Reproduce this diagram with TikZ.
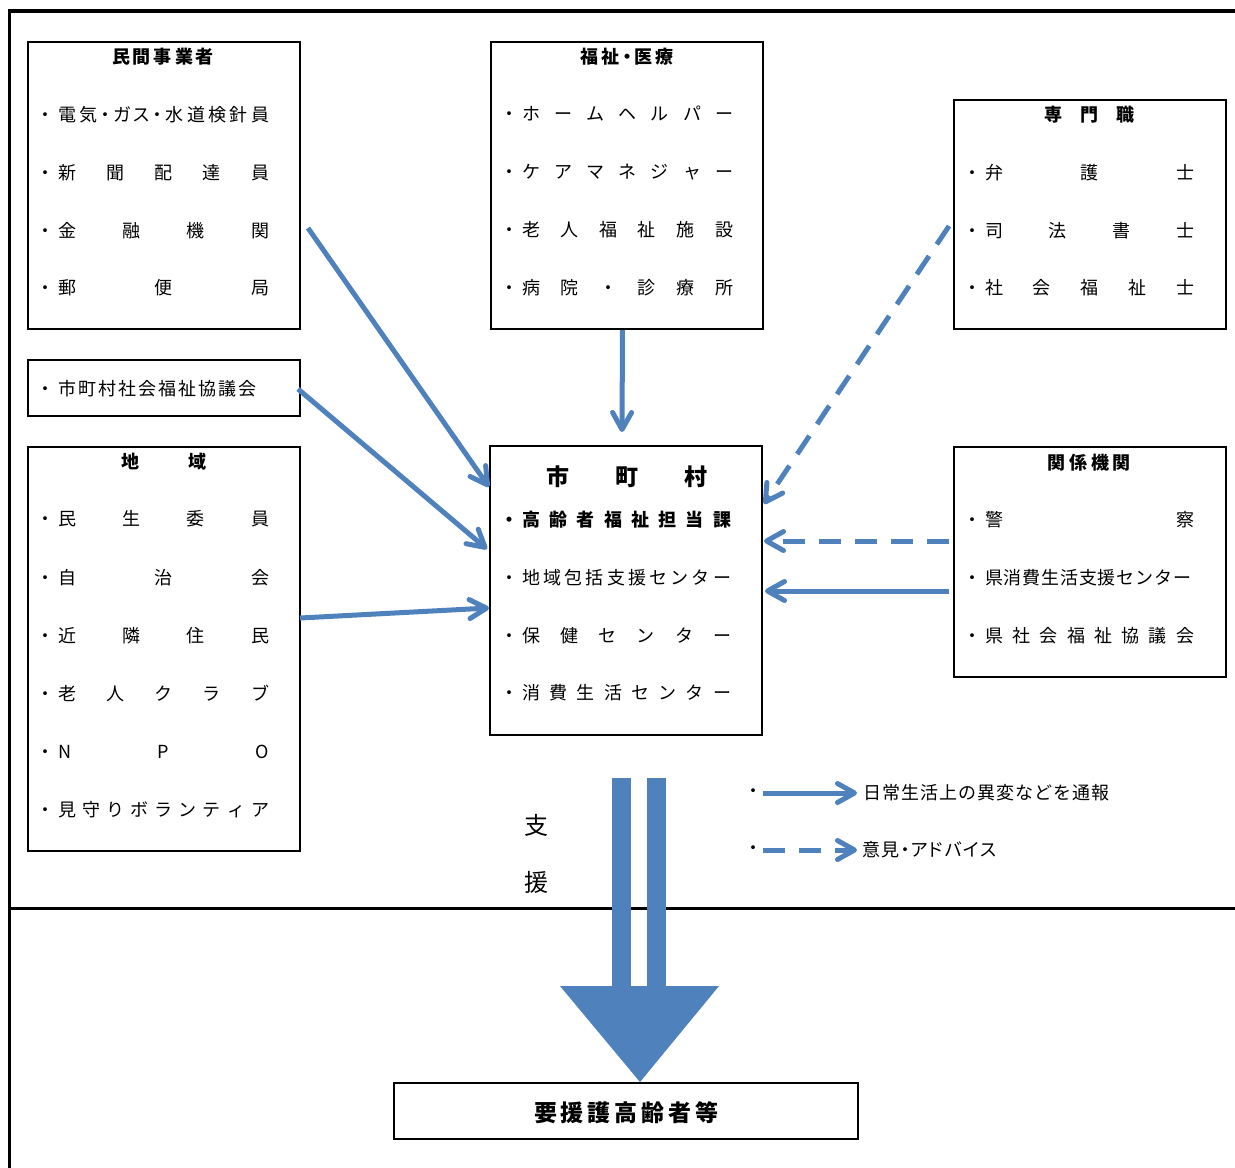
\documentclass[tikz,border=0pt]{standalone}
\usepackage{fontspec}
\setmainfont{Noto Sans CJK JP}
\newfontfamily\jpp[RawFeature=+palt]{Noto Sans CJK JP}
\usetikzlibrary{arrows.meta}
\definecolor{ablue}{RGB}{79,129,189}
\def\spA#1{\ifx#1\relax\else#1\expandafter\spB\fi}
\def\spB#1{\ifx#1\relax\else\hfill#1\expandafter\spB\fi}
\newcommand\sline[2]{\makebox[#1][s]{\spA#2\relax}}
\newcommand\bl{\makebox[18pt]{・}\hspace{4pt}}
\begin{document}
\begin{tikzpicture}[x=1pt,y=-1pt,
  box/.style={draw, line width=2pt, inner sep=0pt, minimum width=272pt},
  txt/.style={inner sep=0pt, anchor=west, font=\fontsize{18pt}{20pt}\selectfont},
  ttl/.style={inner sep=0pt, font=\fontsize{18pt}{20pt}\selectfont\bfseries},
  conn/.style={ablue, line width=5pt, -{Straight Barb[round, length=17pt, width=19pt]}},
  dconn/.style={conn, dash pattern=on 22pt off 14pt}]
\useasboundingbox (0,0) rectangle (1235,1168);
% frame
\draw[line width=2.3pt] (9.5,9.5) -- (9.5,1168);
\draw[line width=3.3pt] (8.4,11) -- (1235,11);
\draw[line width=3pt] (9,908.5) -- (1235,908.5);
% boxes
\node[box, minimum height=287pt] (b1) at (164,185.5) {};
\node[box, minimum height=56pt] (b2) at (164,388) {};
\node[box, minimum height=404pt] (b3) at (164,649) {};
\node[box, minimum height=287pt] (b4) at (627,185.5) {};
\node[box, minimum height=229pt] (b5) at (1090,214.5) {};
\node[box, minimum height=289pt] (b6) at (626,590.5) {};
\node[box, minimum height=230pt] (b7) at (1090,562) {};
\node[box, minimum width=464pt, minimum height=56pt] (b8) at (626,1111) {};
% box 1
\node[ttl] (h1) at (163,57) {\sline{102pt}{民間事業者}};
\node[txt] (t11) at (36,115) {\bl{\jpp\sline{211pt}{電気・ガス・水道検針員}}};
\node[txt] (t12) at (36,173) {\bl\sline{211pt}{新聞配達員}};
\node[txt] (t13) at (36,231) {\bl\sline{211pt}{金融機関}};
\node[txt] (t14) at (36,288) {\bl\sline{211pt}{郵便局}};
% box 2
\node[txt] (t21) at (36,389) {\bl\sline{198pt}{市町村社会福祉協議会}};
% box 3
\node[ttl] (h3) at (164,462) {\sline{85pt}{地域}};
\node[txt] (t31) at (36,519) {\bl\sline{211pt}{民生委員}};
\node[txt] (t32) at (36,578) {\bl\sline{211pt}{自治会}};
\node[txt] (t33) at (36,636) {\bl\sline{211pt}{近隣住民}};
\node[txt] (t34) at (36,693) {\bl\sline{211pt}{老人クラブ}};
\node[txt] (t35) at (36,752) {\bl\sline{211pt}{NPO}};
\node[txt] (t36) at (36,810) {\bl\sline{211pt}{見守りボランティア}};
% box 4
\node[ttl, font=\jpp\fontsize{18pt}{20pt}\selectfont\bfseries] (h4) at (627,57) {\sline{93pt}{福祉・医療}};
\node[txt] (t41) at (500,114) {\bl\sline{211pt}{ホームヘルパー}};
\node[txt] (t42) at (500,172) {\bl\sline{211pt}{ケアマネジャー}};
\node[txt] (t43) at (500,230) {\bl\sline{211pt}{老人福祉施設}};
\node[txt] (t44) at (500,288) {\bl\sline{211pt}{病院・診療所}};
% box 5
\node[ttl] (h5) at (1089,115) {\sline{90pt}{専門職}};
\node[txt] (t51) at (963,173) {\bl\sline{209pt}{弁護士}};
\node[txt] (t52) at (963,231) {\bl\sline{209pt}{司法書士}};
\node[txt] (t53) at (963,288) {\bl\sline{209pt}{社会福祉士}};
% box 6
\node[ttl, font=\fontsize{23pt}{26pt}\selectfont\bfseries] (h6) at (627,477) {\sline{162pt}{市町村}};
\node[txt, font=\fontsize{18pt}{20pt}\selectfont\bfseries] (t61) at (500,520) {\bl\sline{209pt}{高齢者福祉担当課}};
\node[txt] (t62) at (500,578) {\bl\sline{209pt}{地域包括支援センター}};
\node[txt] (t63) at (500,636) {\bl\sline{209pt}{保健センター}};
\node[txt] (t64) at (500,693) {\bl\sline{209pt}{消費生活センター}};
% box 7
\node[ttl] (h7) at (1089,463) {\sline{84pt}{関係機関}};
\node[txt] (t71) at (963,520) {\bl\sline{209pt}{警察}};
\node[txt] (t72) at (963,578) {\bl\sline{206pt}{県消費生活支援センター}};
\node[txt] (t73) at (963,636) {\bl\sline{209pt}{県社会福祉協議会}};
% box 8
\node[ttl, font=\fontsize{23pt}{26pt}\selectfont\bfseries] (h8) at (626,1113) {\sline{184pt}{要援護高齢者等}};
% support label
\node[inner sep=0pt, font=\fontsize{24pt}{26pt}\selectfont] (s1) at (536,825) {支};
\node[inner sep=0pt, font=\fontsize{24pt}{26pt}\selectfont] (s2) at (536,882) {援};
% connectors
\draw[conn] ([shift={(7,187)}]b1.north east) -- ([shift={(0,42)}]b6.north west);
\draw[conn] ([shift={(-3,1)}]b2.east) -- ([shift={(-2,104)}]b6.north west);
\draw[conn] ([shift={(-1,-31)}]b3.east) -- ([shift={(0,17.5)}]b6.west);
\draw[conn] ([shift={(-4.5,0)}]b4.south) -- ([shift={(-4,-13)}]b6.north);
\draw[dconn] ([shift={(-4,11.5)}]b5.west) -- ([shift={(1,59)}]b6.north east);
\draw[dconn] ([shift={(-4,-21)}]b7.west) -- ([shift={(1,-49.5)}]b6.east);
\draw[conn] ([shift={(-4,29)}]b7.west) -- ([shift={(2,0.5)}]b6.east);
% big support arrow
\fill[ablue] (612,778) rectangle (631,987);
\fill[ablue] (647,778) rectangle (666,987);
\fill[ablue] (560,986) -- (719,986) -- (640,1082) -- cycle;
% legend
\node[inner sep=0pt, font=\fontsize{18pt}{20pt}\selectfont] (lb1) at (753,793) {・};
\node[inner sep=0pt, font=\fontsize{18pt}{20pt}\selectfont] (lb2) at (753,850) {・};
\node[txt] (lt1) at (863,793) {\sline{246pt}{日常生活上の異変などを通報}};
\node[txt, font=\jpp\fontsize{18pt}{20pt}\selectfont] (lt2) at (862,850) {\sline{134pt}{意見・アドバイス}};
\draw[conn] ([xshift=1pt]lb1.east) -- ([xshift=-6pt]lt1.west);
\draw[dconn] ([xshift=1pt]lb2.east) -- ([xshift=-5pt]lt2.west);
\end{tikzpicture}
\end{document}
